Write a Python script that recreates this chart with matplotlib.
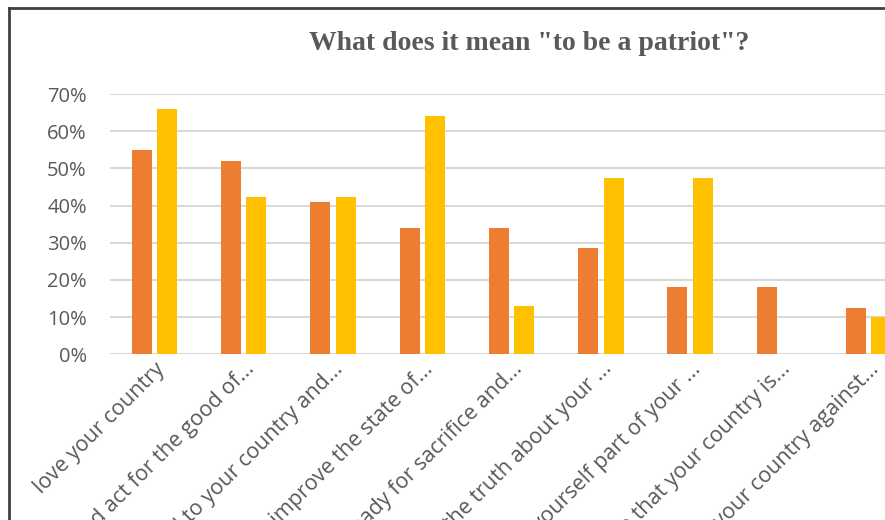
import matplotlib
matplotlib.use("Agg")
import matplotlib.pyplot as plt
import matplotlib.transforms as mtransforms
from matplotlib.lines import Line2D
import numpy as np

categories = [
    "love your country",
    "Think and act for the good of...",
    "Be loyal to your country and...",
    "Strive to improve the state of...",
    "Be ready for sacrifice and...",
    "Know the truth about your ...",
    "Consider yourself part of your ...",
    "Believe that your country is...",
    "Defend your country against...",
]
series_orange = [55, 52, 41, 34, 34, 28.5, 18, 18, 12.4]
series_yellow = [66, 42.2, 42.2, 64, 12.9, 47.4, 47.4, 0, 10]

title = 'What does it mean "to be a patriot"?'
text_color = "#595959"
grid_color = "#D9D9D9"

fig = plt.figure(figsize=(8.85, 5.2), dpi=100)
ax = fig.add_axes([109.7 / 885, 165.7 / 520, 803.7 / 885, 260.3 / 520])

x = np.arange(len(categories))
width = 0.224
ax.bar(x - 0.1417, series_orange, width, color="#ED7D31", linewidth=0, zorder=3)
ax.bar(x + 0.1417, series_yellow, width, color="#FFC000", linewidth=0, zorder=3)

ax.set_xlim(-0.5, len(categories) - 0.5)
ax.set_ylim(0, 70)
ax.set_yticks(range(0, 71, 10))
ax.set_yticklabels([f"{v}%" for v in range(0, 71, 10)])
ax.yaxis.grid(True, color=grid_color, linewidth=1.5, zorder=0)
ax.set_axisbelow(True)
for s in ax.spines.values():
    s.set_visible(False)
ax.tick_params(axis="both", length=0, colors=text_color)
ax.tick_params(axis="y", pad=16.5, labelsize=14.5)
for lab in ax.get_yticklabels():
    lab.set_fontfamily("Open Sans")

ax.set_xticks(x)
ax.set_xticklabels(categories, rotation=45, ha="right", va="top",
                   rotation_mode="anchor", fontfamily="Open Sans", fontsize=15.5,
                   color=text_color)
offset = mtransforms.ScaledTranslation(8 / 100, 0, fig.dpi_scale_trans)
for lab in ax.get_xticklabels():
    lab.set_transform(lab.get_transform() + offset)
ax.tick_params(axis="x", pad=3)

fig.text(529 / 885, 1 - 44 / 520, title, ha="center", va="center",
         fontsize=20, fontweight="bold", fontfamily="Liberation Serif",
         color=text_color)

# chart border (left and top, rest is cropped)
fig.add_artist(Line2D([9 / 885, 9 / 885], [0, 1 - 8 / 520], transform=fig.transFigure,
                      color="#404040", linewidth=2))
fig.add_artist(Line2D([9 / 885, 1], [1 - 8 / 520, 1 - 8 / 520], transform=fig.transFigure,
                      color="#404040", linewidth=2))

fig.savefig("out.png", dpi=100)
